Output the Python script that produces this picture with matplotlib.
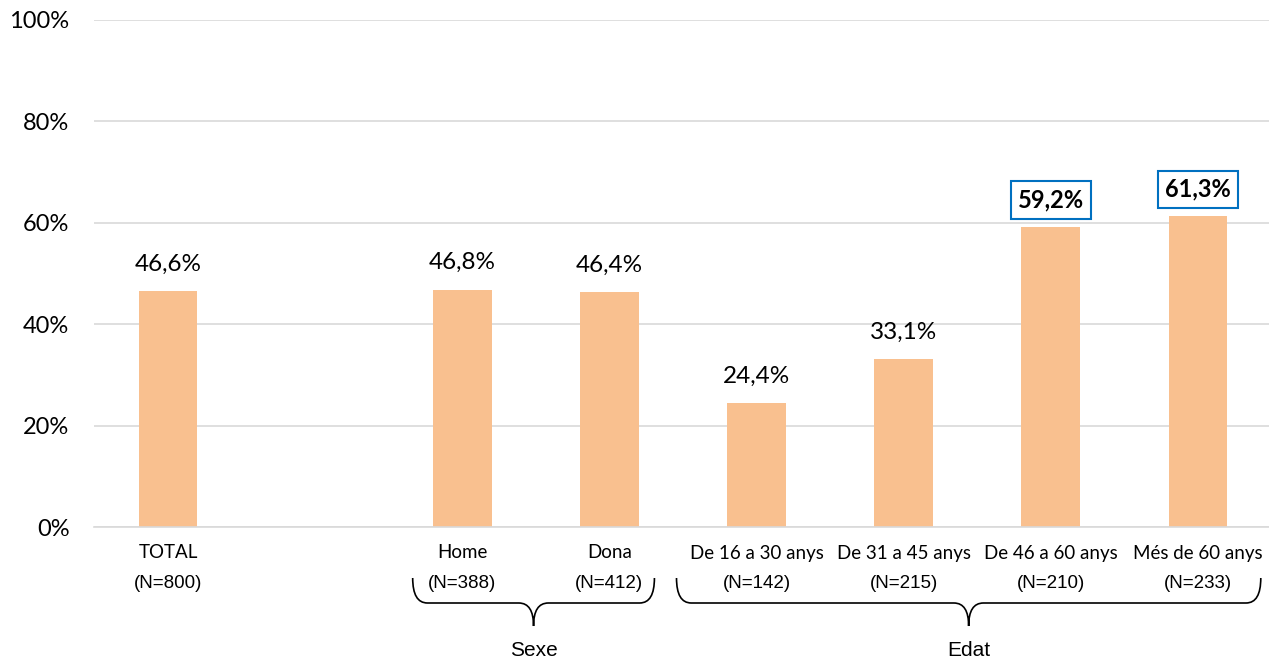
import matplotlib
matplotlib.use("Agg")
import matplotlib.pyplot as plt
from matplotlib.path import Path
from matplotlib.patches import PathPatch
from matplotlib.transforms import blended_transform_factory

categories = ["TOTAL", "", "Home", "Dona", "De 16 a 30 anys", "De 31 a 45 anys", "De 46 a 60 anys", "Més de 60 anys"]
n_labels = ["(N=800)", "", "(N=388)", "(N=412)", "(N=142)", "(N=215)", "(N=210)", "(N=233)"]
values = [46.6, None, 46.8, 46.4, 24.4, 33.1, 59.2, 61.3]
highlight = [False, False, False, False, False, False, True, True]
groups = [("Sexe", 1.663, 3.306), ("Edat", 3.456, 7.427)]
yticks = [0, 20, 40, 60, 80, 100]

CAL = ["Lato", "DejaVu Sans"]
ARI = ["Liberation Sans", "DejaVu Sans"]

fig = plt.figure(figsize=(12.69, 6.59), dpi=100)
ax = fig.add_axes([0.0744, 0.2003, 0.9256 + 0.002, 0.7694])

xs = list(range(len(categories)))
for x, v, h in zip(xs, values, highlight):
    if v is None:
        continue
    ax.bar(x, v, width=0.4, color="#F9C08F", zorder=2)
    lab = f"{v:.1f}%".replace(".", ",")
    if h:
        ax.text(x, v + 5.3, lab, ha="center", va="center", fontsize=17, fontweight="bold",
                family=CAL,
                bbox=dict(boxstyle="square,pad=0.3", fc="white", ec="#0070C0", lw=1.5))
    else:
        ax.text(x, v + 5.3, lab, ha="center", va="center", fontsize=17.5, family=CAL)

ax.set_xlim(-0.5, len(categories) - 0.5)
ax.set_ylim(0, 100)
ax.set_yticks(yticks)
ax.set_yticklabels([f"{t}%" for t in yticks], fontsize=17, family=CAL)
ax.yaxis.grid(True, color="#D9D9D9", lw=1.2, zorder=0)
ax.set_axisbelow(True)
ax.tick_params(axis="y", length=0, pad=18)
ax.tick_params(axis="x", length=0)
ax.set_xticks([])
for s in ["top", "right", "left"]:
    ax.spines[s].set_visible(False)
ax.spines["bottom"].set_color("#D9D9D9")
ax.spines["bottom"].set_linewidth(1.2)

trans = blended_transform_factory(ax.transData, fig.transFigure)
def fy(py):
    return 1 - py / 659.0

for x, c, n in zip(xs, categories, n_labels):
    if c:
        ax.text(x, fy(553), c, transform=trans, ha="center", va="center", fontsize=13.5, family=CAL)
        ax.text(x, fy(583), n, transform=trans, ha="center", va="center", fontsize=13.5, family=ARI)

for name, x0, x1 in groups:
    xm = (x0 + x1) / 2
    dx = 0.1
    y_top, y_mid, y_tip = fy(578), fy(603), fy(626)
    verts = [(x0, y_top), (x0, y_mid), (x0 + dx, y_mid),
             (xm - dx, y_mid), (xm, y_mid), (xm, y_tip),
             (xm, y_mid), (xm + dx, y_mid),
             (x1 - dx, y_mid), (x1, y_mid), (x1, y_top)]
    codes = [Path.MOVETO, Path.CURVE3, Path.CURVE3,
             Path.LINETO, Path.CURVE3, Path.CURVE3,
             Path.CURVE3, Path.CURVE3,
             Path.LINETO, Path.CURVE3, Path.CURVE3]
    patch = PathPatch(Path(verts, codes), transform=trans, fill=False, ec="black", lw=1.2, clip_on=False)
    ax.add_patch(patch)
    ax.text(xm, fy(650), name, transform=trans, ha="center", va="center", fontsize=15, family=ARI)

fig.savefig("out.png", dpi=100)
